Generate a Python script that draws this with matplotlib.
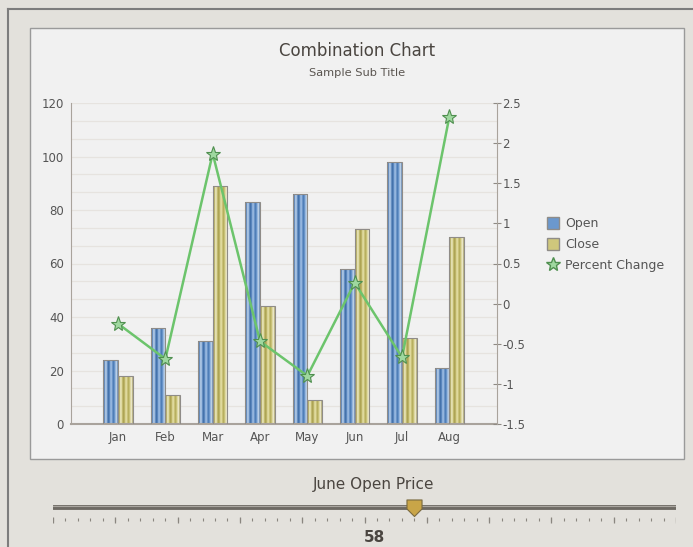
import numpy as np
import matplotlib
matplotlib.use("Agg")
from matplotlib import pyplot as plt
from matplotlib.patches import Rectangle, Patch
from matplotlib.lines import Line2D
from matplotlib.colors import to_rgb
from matplotlib.path import Path

months = ["Jan", "Feb", "Mar", "Apr", "May", "Jun", "Jul", "Aug"]
open_vals = [24, 36, 31, 83, 86, 58, 98, 21]
close_vals = [18, 11, 89, 44, 9, 73, 32, 70]
pct_change = [-0.25, -0.69, 1.87, -0.47, -0.90, 0.26, -0.67, 2.33]
left_ticks = [0, 20, 40, 60, 80, 100, 120]
right_ticks = [-1.5, -1, -0.5, 0, 0.5, 1, 1.5, 2, 2.5]
right_labels = ["-1.5", "-1", "-0.5", "0", "0.5", "1", "1.5", "2", "2.5"]
slider_value = 58
slider_min, slider_max = 0, 100

W, H = 693, 547
fig = plt.figure(figsize=(W / 100, H / 100), dpi=100)
fig.patch.set_facecolor("#e3e1dc")

def fx(x):
    return x / W

def fy(y):
    return 1 - y / H

# outer border lines (top / left)
fig.add_artist(Line2D([fx(7.5), 1.01], [fy(9), fy(9)], transform=fig.transFigure, color="#7d7d7d", lw=1.5))
fig.add_artist(Line2D([fx(7.5), fx(7.5)], [fy(9), -0.01], transform=fig.transFigure, color="#7d7d7d", lw=1.5))
# inner chart panel
fig.patches.append(Rectangle((fx(29.5), fy(459)), fx(683.5) - fx(29.5), fy(27.5) - fy(459),
                             transform=fig.transFigure, facecolor="#f1f1f1", edgecolor="#9a9a9a",
                             linewidth=1.0, zorder=-10))

fig.text(fx(357), fy(51), "Combination Chart", ha="center", va="center", fontsize=12, color="#4a4540")
fig.text(fx(357), fy(73), "Sample Sub Title", ha="center", va="center", fontsize=8.2, color="#5a5550")

ax = fig.add_axes([fx(70.7), fy(424), fx(496.7) - fx(70.7), fy(103) - fy(424)])
ax.set_facecolor("none")
x = np.arange(1, len(months) + 1)
bw = 0.31

blue_stripes = ["#2e4a70", "#6d95c6", "#b4cbe6", "#9ab8de", "#4f7db5", "#3f6ca6", "#6f9bd0",
                "#a6c2e4", "#7ea5d6", "#4a79b2", "#5d8bc4", "#8fb2dc", "#c0d4ea", "#7f9cc0"]
gold_stripes = ["#7c7842", "#c2bb72", "#e9e5bd", "#ddd79c", "#b6ad5c", "#a99f50", "#cbc378",
                "#e6e1ad", "#d6cf8a", "#b3aa5a", "#c3bb6c", "#dcd69c", "#efebcc", "#bdb88a"]

def gradient_bars(xs, vals, stripes):
    img = np.array([[to_rgb(c) for c in stripes]])
    bars = ax.bar(xs, vals, width=bw, color="none", edgecolor="#8f8c88", linewidth=0.8, zorder=3)
    for b in bars:
        x0, y0 = b.get_x(), b.get_y()
        im = ax.imshow(img, aspect="auto", extent=(x0, x0 + b.get_width(), y0, y0 + b.get_height()),
                       zorder=2, interpolation="bilinear")
        im.set_clip_path(b)
    return bars

gradient_bars(x - bw / 2, open_vals, blue_stripes)
gradient_bars(x + bw / 2, close_vals, gold_stripes)

ax.set_xlim(0, len(months) + 1)
ax.set_ylim(0, 120)
ax.set_yticks(left_ticks)
ax.set_yticks(np.linspace(0, 120, 19), minor=True)
ax.grid(True, which="both", axis="y", color="#e6e3df", lw=0.9, zorder=0)
ax.set_xticks(x)
ax.set_xticklabels(months)
ax.tick_params(axis="x", length=0, pad=5, labelsize=8.5, labelcolor="#555")
ax.tick_params(axis="y", which="both", length=0, pad=5, labelsize=8.5, labelcolor="#555")
for s in ["top", "right"]:
    ax.spines[s].set_visible(False)
ax.spines["left"].set_color("#a9a39c")
ax.spines["bottom"].set_color("#a9a39c")
ax.spines["bottom"].set_linewidth(1.5)

ax2 = ax.twinx()
ax2.plot(x, pct_change, color="#6cc46c", lw=1.8, marker="*", markersize=11,
         markerfacecolor="#9fd89f", markeredgecolor="#4f8f4f", markeredgewidth=0.8, zorder=5)
ax2.set_ylim(-1.5, 2.5)
ax2.set_yticks(right_ticks)
ax2.set_yticklabels(right_labels)
ax2.tick_params(axis="y", direction="inout", length=6, color="#8f8a84", labelsize=8.5, labelcolor="#555", pad=1)
for s in ["top", "left", "bottom"]:
    ax2.spines[s].set_visible(False)
ax2.spines["right"].set_color("#a9a39c")

handles = [Patch(facecolor="#6b98cd", edgecolor="#8f8c88", label="Open"),
           Patch(facecolor="#cfc77c", edgecolor="#8f8c88", label="Close"),
           Line2D([], [], marker="*", ls="none", markersize=10, markerfacecolor="#9fd89f",
                  markeredgecolor="#4f8f4f", label="Percent Change")]
fig.legend(handles=handles, loc="upper left", bbox_to_anchor=(fx(536), fy(206)), frameon=False,
           fontsize=9, labelcolor="#555", handlelength=0.9, handleheight=1.1, handletextpad=0.5,
           labelspacing=0.6)

# slider
fig.text(fx(374), fy(485), "June Open Price", ha="center", va="center", fontsize=11, color="#4a4540")
sax = fig.add_axes([fx(53), fy(527), fx(676) - fx(53), fy(497) - fy(527)])
sax.set_xlim(slider_min, slider_max)
sax.set_ylim(30, 0)
sax.axis("off")
sax.plot([slider_min, slider_max], [10, 10], color="#6e6a64", lw=3.5, solid_capstyle="round")
sax.plot([slider_min, slider_max], [9.2, 9.2], color="#aaa6a0", lw=0.8)
minor = np.arange(slider_min, slider_max + 1, 2)
major = np.arange(slider_min, slider_max + 1, 10)
sax.vlines(minor, 21, 24, color="#8a8680", lw=0.8)
sax.vlines(major, 19.5, 26, color="#8a8680", lw=0.9)
thumb = Path([(-1, 1), (1, 1), (1, -0.2), (0, -1.2), (-1, -0.2), (-1, 1)],
             [Path.MOVETO, Path.LINETO, Path.LINETO, Path.LINETO, Path.LINETO, Path.CLOSEPOLY])
sax.plot([slider_value], [10], marker=thumb, markersize=13, markerfacecolor="#c9a548",
         markeredgecolor="#7a6a40", markeredgewidth=0.8, clip_on=False)
fig.text(fx(374), fy(538), str(slider_value), ha="center", va="center", fontsize=11,
         fontweight="bold", color="#4a4540")

fig.savefig("out.png", dpi=100)
